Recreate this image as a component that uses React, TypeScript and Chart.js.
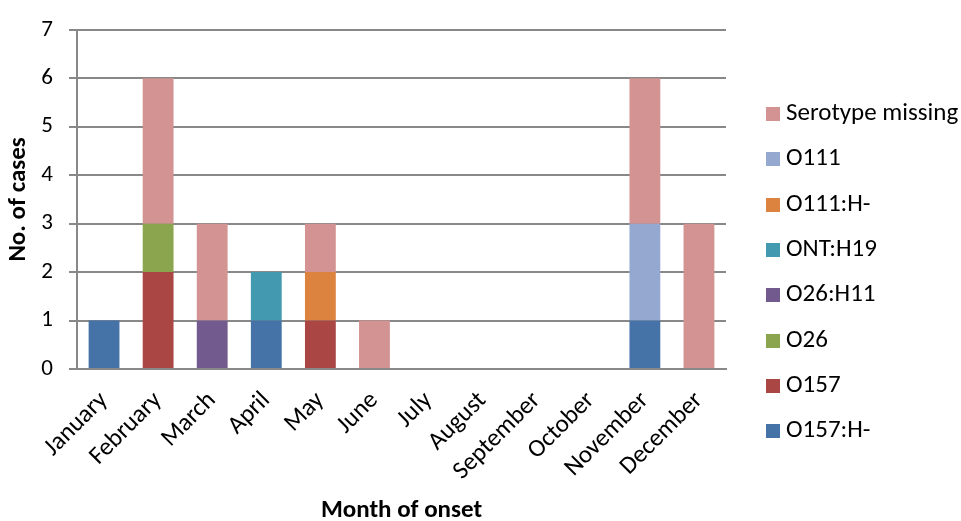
import React, { useEffect, useRef } from "react";
import { Chart, registerables } from "chart.js";

Chart.register(...registerables);

// Month of onset
const months = [
  "January", "February", "March", "April", "May", "June",
  "July", "August", "September", "October", "November", "December",
];

// Cases per serotype and month (stacked bottom to top in this order)
const o157h = [1, 0, 0, 1, 0, 0, 0, 0, 0, 0, 1, 0];
const o157 = [0, 2, 0, 0, 1, 0, 0, 0, 0, 0, 0, 0];
const o26 = [0, 1, 0, 0, 0, 0, 0, 0, 0, 0, 0, 0];
const o26h11 = [0, 0, 1, 0, 0, 0, 0, 0, 0, 0, 0, 0];
const ontH19 = [0, 0, 0, 1, 0, 0, 0, 0, 0, 0, 0, 0];
const o111h = [0, 0, 0, 0, 1, 0, 0, 0, 0, 0, 0, 0];
const o111 = [0, 0, 0, 0, 0, 0, 0, 0, 0, 0, 2, 0];
const missing = [0, 3, 2, 0, 1, 1, 0, 0, 0, 0, 3, 3];

const seriesNames = [
  "O157:H-", "O157", "O26", "O26:H11", "ONT:H19", "O111:H-", "O111", "Serotype missing",
];
const seriesValues = [o157h, o157, o26, o26h11, ontH19, o111h, o111, missing];
const seriesColors = [
  "#4572A7", "#AA4744", "#8BA54E", "#725A8E", "#4399B0", "#DD8340", "#95A9D0", "#D39392",
];

const yTicks = [0, 1, 2, 3, 4, 5, 6, 7];

const FONT = "Carlito, Lato, 'Open Sans', sans-serif";
const GRID = "#888888";

export default function App() {
  const canvasRef = useRef<HTMLCanvasElement | null>(null);

  useEffect(() => {
    if (!canvasRef.current) return;
    const chart = new Chart(canvasRef.current, {
      type: "bar",
      data: {
        labels: months,
        datasets: seriesNames.map((name, i) => ({
          label: name,
          data: seriesValues[i],
          backgroundColor: seriesColors[i],
          borderWidth: 0,
          barPercentage: 0.57,
          categoryPercentage: 1,
        })),
      },
      options: {
        responsive: false,
        animation: false,
        layout: { padding: { left: 0, right: 235, top: 17, bottom: 0 } },
        plugins: {
          legend: { display: false },
          tooltip: { enabled: false },
        },
        scales: {
          x: {
            stacked: true,
            grid: { display: false, drawTicks: false },
            border: { display: true, color: GRID, width: 2 },
            ticks: {
              minRotation: 45,
              maxRotation: 45,
              padding: 17,
              color: "#000",
              font: { family: FONT, size: 25 },
            },
            title: {
              display: true,
              text: "Month of onset",
              color: "#000",
              padding: { top: 0, bottom: -5 },
              font: { family: FONT, size: 25, weight: "bold" },
            },
            afterFit: (scale: any) => {
              scale.height = 152;
            },
          },
          y: {
            stacked: true,
            min: 0,
            max: 7,
            afterBuildTicks: (scale: any) => {
              scale.ticks = yTicks.map((v) => ({ value: v }));
            },
            grid: { color: GRID, lineWidth: 2, tickLength: 8, drawTicks: true },
            border: { display: true, color: GRID, width: 2 },
            ticks: {
              padding: 16,
              color: "#000",
              font: { family: FONT, size: 23 },
            },
            title: {
              display: true,
              text: "No. of cases",
              color: "#000",
              padding: { top: 4, bottom: 0 },
              font: { family: FONT, size: 25, weight: "bold" },
            },
            afterFit: (scale: any) => {
              scale.width = 77;
            },
          },
        },
      },
    });
    return () => chart.destroy();
  }, []);

  const legendOrder = seriesNames.map((_, i) => i).reverse();

  return (
    <div style={{ position: "absolute", left: 0, top: 0, width: 961, height: 521, background: "#fff" }}>
      <canvas ref={canvasRef} width={961} height={521} style={{ display: "block" }} />
      {legendOrder.map((idx, row) => {
        const cy = 113 + row * 45.3;
        return (
          <div key={seriesNames[idx]}>
            <div
              style={{
                position: "absolute",
                left: 766,
                top: cy - 6,
                width: 14,
                height: 14,
                background: seriesColors[idx],
              }}
            />
            <div
              style={{
                position: "absolute",
                left: 786,
                top: cy - 16,
                height: 30,
                lineHeight: "30px",
                fontFamily: FONT,
                fontSize: 25,
                color: "#000",
                whiteSpace: "nowrap",
              }}
            >
              {seriesNames[idx]}
            </div>
          </div>
        );
      })}
    </div>
  );
}
